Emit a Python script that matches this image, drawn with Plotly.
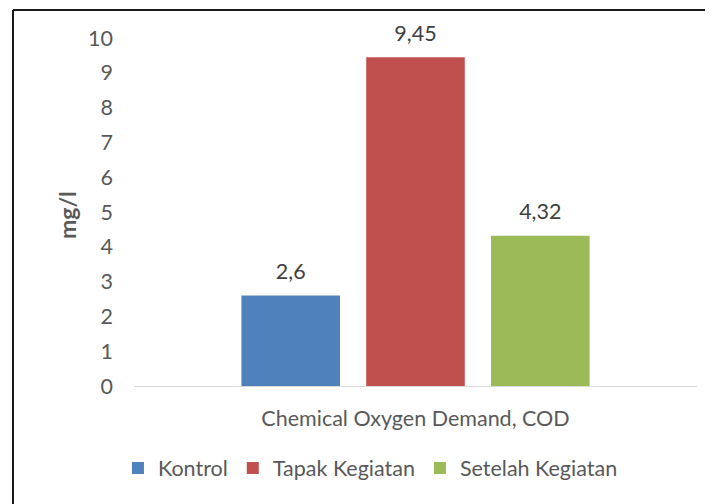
import plotly.graph_objects as go

# Data
categories = ["Chemical Oxygen Demand, COD"]
series_names = ["Kontrol", "Tapak Kegiatan", "Setelah Kegiatan"]
series_values = [[2.6], [9.45], [4.32]]
y_ticks = list(range(0, 11))

COLORS = ["#4F81BD", "#C0504D", "#9BBB59"]
FONT = "Lato, 'Open Sans', sans-serif"
FS = 21.5
W, H = 713, 504
OFF = 8  # page body margin shifts the figure
L, R, T, B = 134 - OFF, 16 + OFF, 38 - OFF, 118 + OFF


def px_x(p):
    # screen pixel -> paper x
    return (p - OFF - L) / (W - L - R)


def px_y(p):
    # screen pixel -> paper y
    return (H - B - (p - OFF)) / (H - T - B)


fig = go.Figure()
for i, (name, vals, color) in enumerate(zip(series_names, series_values, COLORS)):
    fig.add_trace(go.Bar(
        x=categories,
        y=vals,
        name=name,
        offsetgroup=str(i),
        marker=dict(color=color, line=dict(width=0)),
    ))
    # value labels, pushed up by an invisible marker
    fig.add_trace(go.Scatter(
        x=categories,
        y=vals,
        offsetgroup=str(i),
        mode="markers+text",
        marker=dict(size=16, opacity=0),
        text=[f"{v:g}".replace(".", ",") for v in vals],
        textposition="top center",
        textfont=dict(size=FS, color="#404040", family=FONT),
        showlegend=False,
        hoverinfo="skip",
        cliponaxis=False,
    ))

fig.update_layout(
    width=W, height=H,
    margin=dict(l=L, r=R, t=T, b=B),
    paper_bgcolor="white",
    plot_bgcolor="white",
    font=dict(family=FONT, color="#595959", size=FS),
    barmode="group",
    scattermode="group",
    bargap=0.335,
    scattergap=0.335,
    bargroupgap=0.21,
    showlegend=True,
    legend=dict(
        orientation="h",
        x=0.42, xanchor="center",
        y=px_y(468), yanchor="middle",
        font=dict(size=FS, color="#595959"),
        itemwidth=30,
        traceorder="normal",
    ),
    xaxis=dict(
        showgrid=False,
        showline=True,
        linecolor="#D9D9D9",
        linewidth=1,
        ticks="",
        tickfont=dict(size=FS, color="#595959"),
        ticklabelstandoff=13,
    ),
    yaxis=dict(
        range=[0, 10],
        tickvals=y_ticks,
        showgrid=False,
        zeroline=False,
        showline=False,
        ticks="",
        tickfont=dict(size=FS, color="#595959"),
        ticklabelstandoff=20,
    ),
    annotations=[dict(
        text="<b>mg/l</b>",
        xref="paper", yref="paper",
        x=px_x(67), y=px_y(215),
        xanchor="center", yanchor="middle",
        textangle=-90,
        showarrow=False,
        font=dict(size=23, color="#595959"),
    )],
    shapes=[
        dict(type="line", xref="paper", yref="paper",
             x0=px_x(13), x1=px_x(720), y0=px_y(10), y1=px_y(10),
             line=dict(color="#1a1a1a", width=2)),
        dict(type="line", xref="paper", yref="paper",
             x0=px_x(13), x1=px_x(13), y0=px_y(10), y1=px_y(520),
             line=dict(color="#1a1a1a", width=2)),
    ],
)

fig.write_html("out.html")
